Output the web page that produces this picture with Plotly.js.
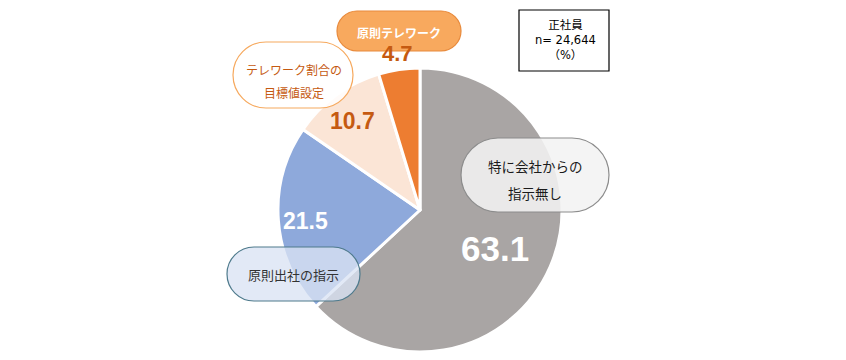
<!DOCTYPE html>
<html>
<head>
<meta charset="utf-8">
<script src="https://cdn.plot.ly/plotly-3.0.1.min.js"></script>
<style>html,body{margin:0;padding:0;background:#fff;}#chart{width:846px;height:360px;}</style>
</head>
<body>
<div id="chart"></div>
<script>
// Data
const categories = ["特に会社からの指示無し", "原則出社の指示", "テレワーク割合の目標値設定", "原則テレワーク"];
const labelLines = [["特に会社からの", "指示無し"], ["原則出社の指示"], ["テレワーク割合の", "目標値設定"], ["原則テレワーク"]];
const values = [63.1, 21.5, 10.7, 4.7];
const legendLines = ["正社員", "n= 24,644", "（%）"];

const W = 846, H = 360;
const px = x => x / W;
const py = y => 1 - y / H;

const sliceColors = ["#A9A5A4", "#8EA9DB", "#FBE5D6", "#ED7D31"];

// pie domain (pixel based)
const cx = 420, cy = 210, r = 142;

const trace = {
  type: "pie",
  values: values,
  labels: categories,
  sort: false,
  direction: "clockwise",
  rotation: 0,
  textinfo: "none",
  hoverinfo: "label+value",
  marker: { colors: sliceColors, line: { color: "#FFFFFF", width: 3 } },
  domain: { x: [px(cx - r), px(cx + r)], y: [py(cy + r), py(cy - r)] },
  showlegend: false
};

// stadium (rounded pill) path in paper coords
function pill(x0, y0, x1, y1) {
  const rr = (y1 - y0) / 2;
  const k = 0.5523 * rr;
  const P = (x, y) => px(x).toFixed(5) + "," + py(y).toFixed(5);
  return "M" + P(x0 + rr, y0) +
    " L" + P(x1 - rr, y0) +
    " C" + P(x1 - rr + k, y0) + " " + P(x1, y0 + rr - k) + " " + P(x1, y0 + rr) +
    " C" + P(x1, y0 + rr + k) + " " + P(x1 - rr + k, y1) + " " + P(x1 - rr, y1) +
    " L" + P(x0 + rr, y1) +
    " C" + P(x0 + rr - k, y1) + " " + P(x0, y0 + rr + k) + " " + P(x0, y0 + rr) +
    " C" + P(x0, y0 + rr - k) + " " + P(x0 + rr - k, y0) + " " + P(x0 + rr, y0) + " Z";
}

const boxes = [
  { b: [461, 138, 609, 212], fill: "rgba(242,242,242,0.88)", line: "#8C8C8C", text: "#1A1A1A", size: 13.5, lines: [166, 193], cx: 535 },
  { b: [227, 247, 360, 301], fill: "rgba(218,227,243,0.78)", line: "#4E7A8C", text: "#333333", size: 13, lines: [274], cx: 293 },
  { b: [233, 42, 353, 108], fill: "rgba(255,255,255,0.85)", line: "#F6A95E", text: "#C55A11", size: 12, lines: [69, 92], cx: 294 },
  { b: [337, 11, 461, 51], fill: "#F8A95E", line: "#E88A3C", text: "#FFFFFF", size: 12, lines: [32], cx: 399, bold: true }
];

const shapes = [];
const annotations = [];
const font = "'Noto Sans CJK JP', 'Noto Sans', sans-serif";

boxes.forEach((bx, i) => {
  shapes.push({
    type: "path", xref: "paper", yref: "paper", layer: "above",
    path: pill(bx.b[0], bx.b[1], bx.b[2], bx.b[3]),
    fillcolor: bx.fill, line: { color: bx.line, width: 1.2 }
  });
  labelLines[i].forEach((t, j) => {
    annotations.push({
      xref: "paper", yref: "paper", x: px(bx.cx), y: py(bx.lines[j]),
      xanchor: "center", yanchor: "middle", showarrow: false,
      text: bx.bold ? "<b>" + t + "</b>" : t,
      font: { family: font, size: bx.size, color: bx.text }
    });
  });
});

// value labels
const valPos = [[495, 248, 35, "#FFFFFF"], [305, 221, 23, "#FFFFFF"], [352, 121, 23, "#C55A11"], [397, 53, 22, "#C55A11"]];
values.forEach((v, i) => {
  const p = valPos[i];
  annotations.push({
    xref: "paper", yref: "paper", x: px(p[0]), y: py(p[1]),
    xanchor: "center", yanchor: "middle", showarrow: false,
    text: "<b>" + v.toFixed(1) + "</b>",
    font: { family: "'Liberation Sans', Arial, sans-serif", size: p[2], color: p[3] }
  });
});

// legend box
shapes.push({
  type: "rect", xref: "paper", yref: "paper", layer: "above",
  x0: px(519), x1: px(609), y0: py(71), y1: py(10),
  fillcolor: "#FFFFFF", line: { color: "#000000", width: 1.2 }
});
annotations.push({
  xref: "paper", yref: "paper", x: px(565), y: py(40),
  xanchor: "center", yanchor: "middle", showarrow: false,
  text: legendLines.join("<br>"),
  font: { family: "'DejaVu Sans', 'Noto Sans CJK JP', sans-serif", size: 11.5, color: "#000000" }
});

const layout = {
  width: W, height: H,
  margin: { l: 0, r: 0, t: 0, b: 0 },
  paper_bgcolor: "#FFFFFF",
  plot_bgcolor: "#FFFFFF",
  shapes: shapes,
  annotations: annotations,
  showlegend: false
};

Plotly.newPlot("chart", [trace], layout, { displayModeBar: false, staticPlot: true });
</script>
</body>
</html>
